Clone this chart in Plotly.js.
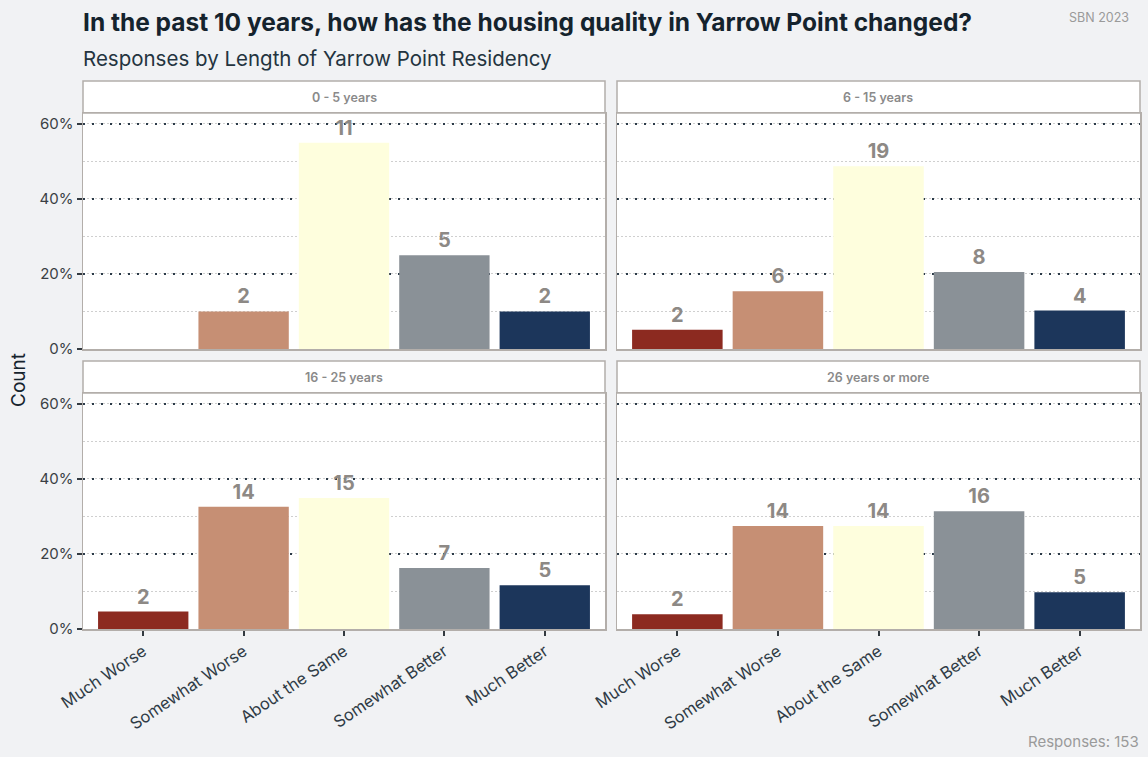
<!DOCTYPE html>
<html><head><meta charset="utf-8">
<script src="https://cdn.plot.ly/plotly-3.0.1.min.js"></script>
<style>html,body{margin:0;padding:0;background:#f1f2f4;}</style>
</head><body><div id="chart" style="width:1148px;height:757px;"></div>
<script>
const categories = ["Much Worse", "Somewhat Worse", "About the Same", "Somewhat Better", "Much Better"];
const colors = ["#8c2a20", "#c68f74", "#fefedd", "#8a9197", "#1c365b"];
const facets = ["0 - 5 years", "6 - 15 years", "16 - 25 years", "26 years or more"];
const counts_0_5 = [0, 2, 11, 5, 2];
const counts_6_15 = [2, 6, 19, 8, 4];
const counts_16_25 = [2, 14, 15, 7, 5];
const counts_26_plus = [2, 14, 14, 16, 5];
const yTicks = [0, 20, 40, 60];
const yTickLabels = ["0%", "20%", "40%", "60%"];
const totalResponses = 153;

const allCounts = [counts_0_5, counts_6_15, counts_16_25, counts_26_plus];
const W = 1148, H = 757;
const px = v => v / W, py = v => 1 - v / H;
const xDom = [[px(83), px(605)], [px(617), px(1140)]];
const yDom = [[py(349), py(113)], [py(629), py(393)]];
const font = "Inter, 'Open Sans', sans-serif";

const traces = allCounts.map((c, i) => {
  const tot = c.reduce((a, b) => a + b, 0);
  const n = i === 0 ? '' : String(i + 1);
  return {
    type: 'bar', x: categories, y: c.map(v => v / tot * 100),
    text: c.map(v => v > 0 ? String(v) : ''),
    textposition: 'outside', cliponaxis: false,
    textfont: {family: font, size: 20, color: '#8d8985', weight: 700},
    marker: {color: colors, line: {width: 0}},
    xaxis: 'x' + n, yaxis: 'y' + n, hoverinfo: 'none', showlegend: false
  };
});

const layout = {
  width: W, height: H, margin: {l: 0, r: 0, t: 0, b: 0},
  paper_bgcolor: '#f1f2f4', plot_bgcolor: '#ffffff',
  font: {family: font, color: '#2f3b45'},
  bargap: 0.1, showlegend: false, shapes: [], annotations: []
};

for (let i = 0; i < 4; i++) {
  const col = i % 2, row = Math.floor(i / 2);
  const n = i === 0 ? '' : String(i + 1);
  const isBottom = row === 1, isLeft = col === 0;
  layout['xaxis' + n] = {
    domain: xDom[col], anchor: 'y' + n, type: 'category', range: [-0.6, 4.6],
    showline: true, mirror: true, linecolor: '#b3aeaa', linewidth: 1.5,
    showgrid: false, zeroline: false,
    showticklabels: isBottom, ticks: isBottom ? 'outside' : '', ticklen: 5, tickwidth: 2, tickcolor: '#333a40',
    tickangle: -34, tickfont: {family: font, size: 16.5, color: '#2f3b45'}
  };
  layout['yaxis' + n] = {
    domain: yDom[row], anchor: 'x' + n, range: [0, 62.9],
    tickvals: yTicks, ticktext: yTickLabels,
    showline: true, mirror: true, linecolor: '#b3aeaa', linewidth: 1.5,
    showgrid: true, gridcolor: '#2b3a48', gridwidth: 2.2, griddash: '2px,7px', zeroline: false,
    minor: {dtick: 10, tick0: 0, showgrid: true, gridcolor: '#cfcfcf', gridwidth: 1, griddash: '1.5px,2.5px'},
    showticklabels: isLeft, ticks: isLeft ? 'outside' : '', ticklen: 5, tickwidth: 2, tickcolor: '#333a40',
    tickfont: {family: font, size: 15, color: '#3a3f44'}
  };
  const sTop = row === 0 ? 81 : 361, sBot = row === 0 ? 113 : 393;
  layout.shapes.push({type: 'rect', xref: 'paper', yref: 'paper',
    x0: xDom[col][0], x1: xDom[col][1], y0: py(sBot), y1: py(sTop),
    fillcolor: '#ffffff', line: {color: '#b3aeaa', width: 1.5}, layer: 'below'});
  layout.annotations.push({xref: 'paper', yref: 'paper', x: (xDom[col][0] + xDom[col][1]) / 2,
    y: py((sTop + sBot) / 2), text: facets[i], showarrow: false, xanchor: 'center', yanchor: 'middle',
    font: {family: font, size: 12.5, color: '#8a8a8a', weight: 600}});
}

layout.annotations.push(
  {xref: 'paper', yref: 'paper', x: px(81), y: py(22), xanchor: 'left', yanchor: 'middle', showarrow: false,
   text: '<b>In the past 10 years, how has the housing quality in Yarrow Point changed?</b>',
   font: {family: font, size: 24.5, color: '#15232d'}},
  {xref: 'paper', yref: 'paper', x: px(81), y: py(58), xanchor: 'left', yanchor: 'middle', showarrow: false,
   text: 'Responses by Length of Yarrow Point Residency',
   font: {family: font, size: 20.5, color: '#24343f'}},
  {xref: 'paper', yref: 'paper', x: px(1131), y: py(17), xanchor: 'right', yanchor: 'middle', showarrow: false,
   text: 'SBN 2023', font: {family: font, size: 12.5, color: '#9a9a9a'}},
  {xref: 'paper', yref: 'paper', x: px(1141), y: py(741), xanchor: 'right', yanchor: 'middle', showarrow: false,
   text: 'Responses: ' + totalResponses, font: {family: font, size: 15, color: '#9a9a9a'}},
  {xref: 'paper', yref: 'paper', x: px(18), y: py(380), xanchor: 'center', yanchor: 'middle', showarrow: false,
   text: 'Count', textangle: -90, font: {family: font, size: 19, color: '#15232d'}}
);

Plotly.newPlot('chart', traces, layout, {displayModeBar: false, staticPlot: true});
</script></body></html>
